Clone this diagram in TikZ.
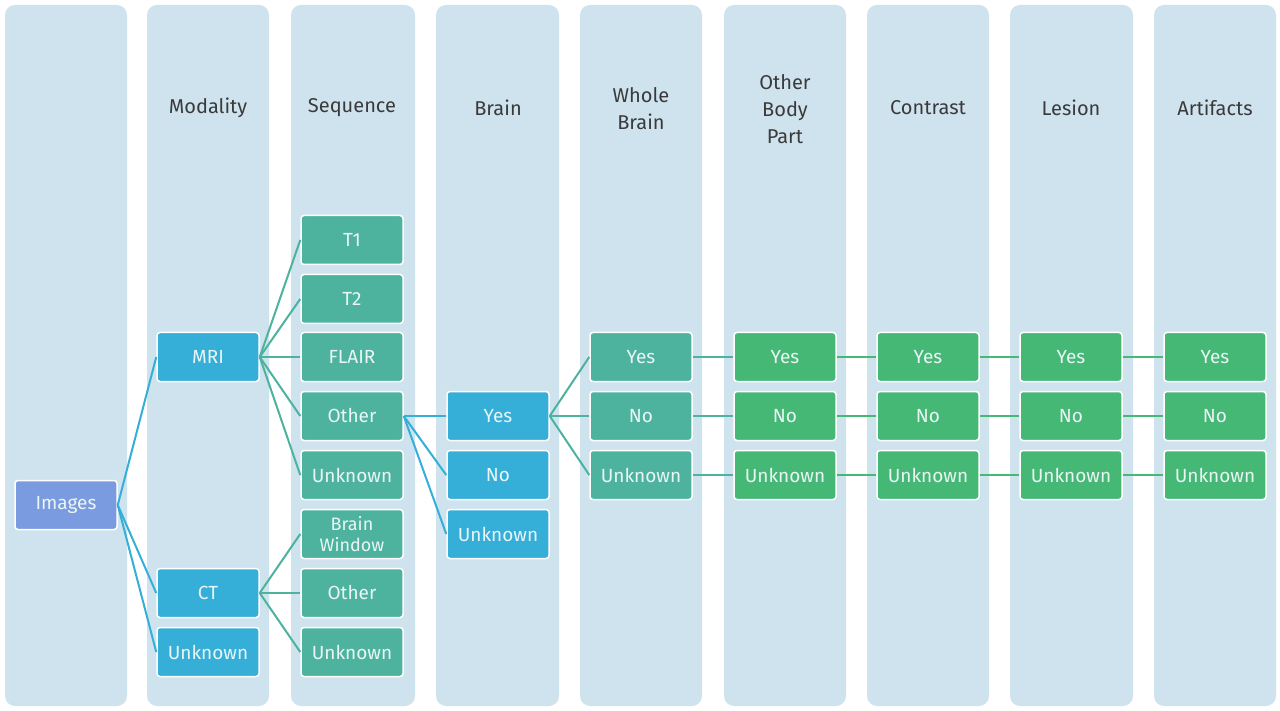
\documentclass[tikz,border=0pt]{standalone}
\usepackage{fontspec}
\setmainfont{Fira Sans}
\begin{document}
\begin{tikzpicture}[x=1pt,y=-1pt,
  col/.style={fill=colbg,rounded corners=10pt},
  hdr/.style={text=hdrtext,align=center,font=\fontsize{20}{27}\selectfont},
  bx/.style={draw=white,line width=1.5pt,rounded corners=3pt,minimum width=102pt,minimum height=49pt,inner sep=1pt,text=boxtext,align=center,font=\fontsize{19}{22}\selectfont},
  imgbox/.style={bx,fill=imgc},
  bluebox/.style={bx,fill=bluec},
  tealbox/.style={bx,fill=tealc},
  greenbox/.style={bx,fill=greenc},
  bl/.style={draw=bluec,line width=2pt},
  tl/.style={draw=tealc,line width=2pt},
  gl/.style={draw=greenc,line width=2pt}]
\definecolor{colbg}{HTML}{CFE3EF}
\definecolor{hdrtext}{HTML}{3A3A3A}
\definecolor{boxtext}{HTML}{EAF6F6}
\definecolor{imgc}{HTML}{7B9BE0}
\definecolor{bluec}{HTML}{35AED8}
\definecolor{tealc}{HTML}{4DB39E}
\definecolor{greenc}{HTML}{46B875}
\useasboundingbox (0,0) rectangle (1280,711);
\fill[white] (0,0) rectangle (1280,711);
\foreach \a/\b in {5/127,147/269,291/415,436/559,580/702,724/846,867/989,1010/1133,1154/1276}
  \fill[col] (\a,5) rectangle (\b,706);
\node[hdr] (h2) at (208,108) {Modality};
\node[hdr] (h3) at (352,108) {Sequence};
\node[hdr] (h4) at (498,108) {Brain};
\node[hdr] (h5) at (641,109) {Whole\\Brain};
\node[hdr] (h6) at (785,109) {Other\\Body\\Part};
\node[hdr] (h7) at (928,108) {Contrast};
\node[hdr] (h8) at (1071,108) {Lesion};
\node[hdr] (h9) at (1215,108) {Artifacts};
\node[imgbox] (img) at (66,505) {Images};
\node[bluebox] (mri) at (208,357) {MRI};
\node[bluebox] (ct) at (208,593) {CT};
\node[bluebox] (mun) at (208,652) {Unknown};
\node[tealbox] (t1) at (352,240) {T1};
\node[tealbox] (t2) at (352,299) {T2};
\node[tealbox] (fl) at (352,357) {FLAIR};
\node[tealbox] (so) at (352,416) {Other};
\node[tealbox] (su) at (352,475) {Unknown};
\node[tealbox,font=\fontsize{18}{21}\selectfont] (bw) at (352,534) {Brain\\Window};
\node[tealbox] (co) at (352,593) {Other};
\node[tealbox] (cu) at (352,652) {Unknown};
\node[bluebox] (by) at (498,416) {Yes};
\node[bluebox] (bn) at (498,475) {No};
\node[bluebox] (bu) at (498,534) {Unknown};
\node[tealbox] (w1) at (641,357) {Yes};
\node[tealbox] (w2) at (641,416) {No};
\node[tealbox] (w3) at (641,475) {Unknown};
\foreach \c/\x in {6/785,7/928,8/1071,9/1215}{
  \node[greenbox] (g\c1) at (\x,357) {Yes};
  \node[greenbox] (g\c2) at (\x,416) {No};
  \node[greenbox] (g\c3) at (\x,475) {Unknown};
}
\foreach \t in {mri,ct,mun} \draw[bl] (img.east) -- (\t.west);
\foreach \t in {t1,t2,fl,so,su} \draw[tl] (mri.east) -- (\t.west);
\foreach \t in {bw,co,cu} \draw[tl] (ct.east) -- (\t.west);
\foreach \t in {by,bn,bu} \draw[bl] (so.east) -- (\t.west);
\foreach \t in {w1,w2,w3} \draw[tl] (by.east) -- (\t.west);
\foreach \r in {1,2,3}{
  \draw[tl] (w\r) -- (g6\r);
  \draw[gl] (g6\r) -- (g7\r);
  \draw[gl] (g7\r) -- (g8\r);
  \draw[gl] (g8\r) -- (g9\r);
}
\end{tikzpicture}
\end{document}
